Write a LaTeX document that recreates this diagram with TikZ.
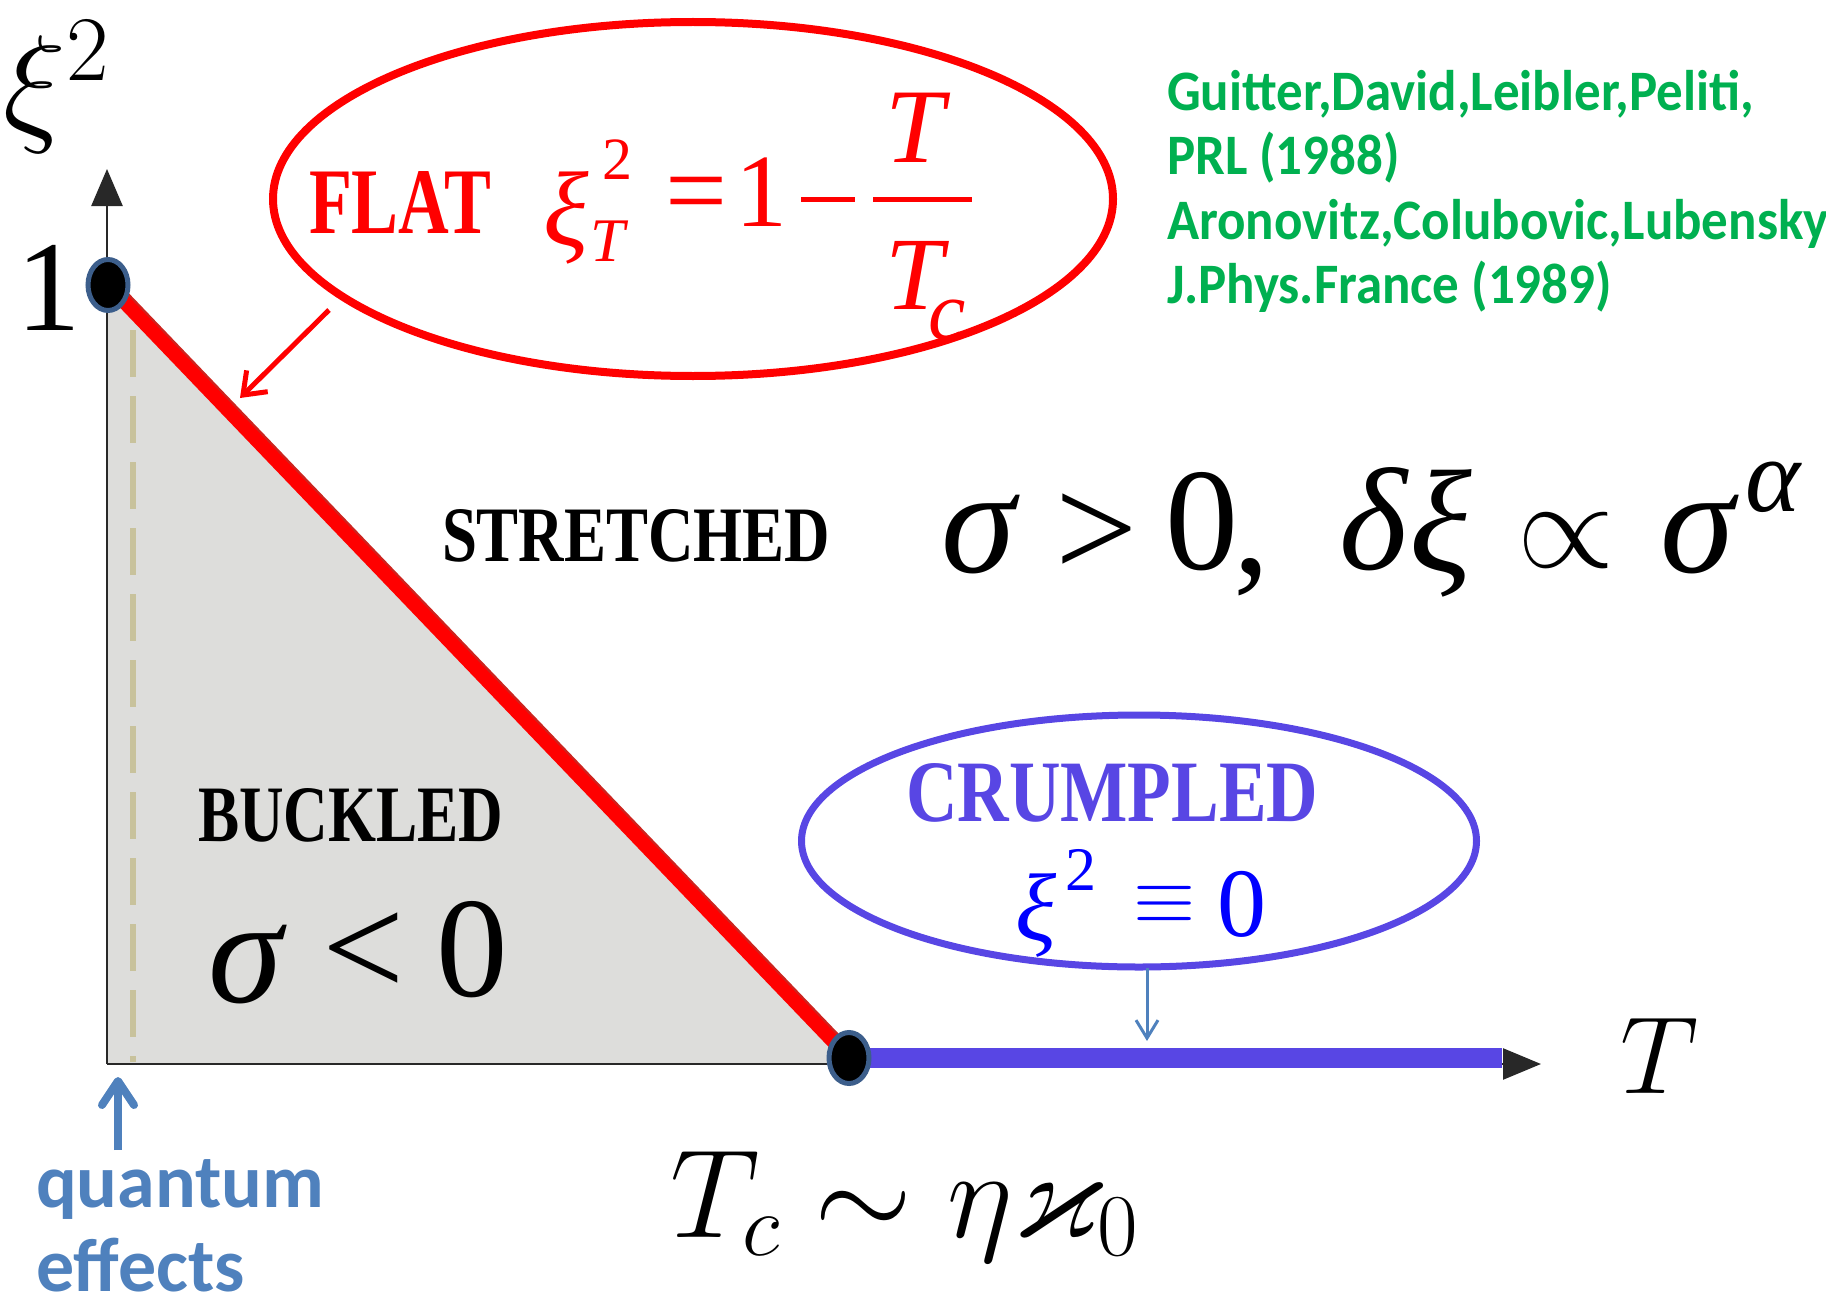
\RequirePackage{fix-cm}
\documentclass[tikz,border=0pt]{standalone}
\usepackage{amsmath,amssymb}
\usepackage{fontspec}
\newfontfamily\tms{Liberation Serif}
\newfontfamily\calfont{Carlito}
\usetikzlibrary{shapes.geometric,arrows.meta}
\definecolor{fred}{RGB}{255,0,0}
\definecolor{dred}{RGB}{205,35,30}
\definecolor{crum}{RGB}{88,70,228}
\definecolor{pblue}{RGB}{0,0,255}
\definecolor{steel}{RGB}{79,129,189}
\definecolor{refgreen}{RGB}{0,176,80}
\definecolor{grayfill}{RGB}{221,221,219}
\definecolor{tanline}{RGB}{200,194,156}
\definecolor{dotblue}{RGB}{60,94,139}
\definecolor{axisgray}{RGB}{40,40,40}
\newcommand\fs[1]{\fontsize{#1}{#1}\selectfont}
\begin{document}
\begin{tikzpicture}[x=1pt,y=-1pt,
  txt/.style={inner sep=0pt, outer sep=0pt},
  axisline/.style={draw=axisgray, line width=2.5pt},
  dot/.style={ellipse, fill=black, draw=dotblue, line width=5pt, minimum width=40pt, minimum height=51pt, inner sep=0pt},
  bubble/.style={ellipse, inner sep=0pt, fill=none},
  reftxt/.style={txt, anchor=base west, text=refgreen, font=\fs{53}\calfont\bfseries},
  qtxt/.style={txt, anchor=base west, text=steel, font=\fs{76}\calfont\bfseries}]
\useasboundingbox (0,0) rectangle (1826,1303);

% coordinates
\coordinate (O) at (107,1064);
\coordinate (ytip) at (107,169);
\coordinate (xtip) at (1541,1064);
\coordinate (one) at (108,285);
\coordinate (tc) at (849,1058);
\coordinate (tcb) at (849,1064);
\coordinate (barend) at (1502,1058);
\coordinate (dtop) at (133,330);
\coordinate (dbot) at (133,1062);

% buckled region
\fill[grayfill] (one) -- (O) -- (tcb) -- cycle;
\draw[tanline, line width=6pt, dash pattern=on 47pt off 19pt] (dtop) -- (dbot);

% axes
\draw[axisline, -{Triangle[length=38pt,width=31pt]}] (O) -- (xtip);
\draw[axisline, -{Triangle[length=37pt,width=31pt]}] (O) -- (ytip);

% transition lines
\draw[dred, line width=6pt, transform canvas={xshift=4.5pt,yshift=4.5pt}] (one) -- (tc);
\draw[fred, line width=14pt] (one) -- (tc);
\draw[crum, line width=20pt] (tc) -- (barend);

% points
\node[dot] (d1) at (one) {};
\node[dot] (d2) at (tc) {};

% bubbles
\node[bubble, draw=fred, line width=8pt, minimum width=840pt, minimum height=354pt] (flat) at (693,199) {};
\node[bubble, draw=crum, line width=7pt, minimum width=675pt, minimum height=252pt] (crumpled) at (1139,841) {};

% axis labels
\node[txt, anchor=base west] (ylab) at (4,128) {\fs{132}$\xi^2$};
\node[txt] (onelab) at (49,288) {\fs{129}\tms 1};
\node[txt, anchor=base west] (xlab) at (1620,1093) {\fs{110}$T$};
\node[txt, anchor=base west] (tclab) at (670,1237) {\fs{126}$T_c\sim\eta\varkappa_0$};

% FLAT
\node[txt, anchor=base west, text=fred] (flattxt) at (309,233) {\resizebox{182pt}{62pt}{\tms\bfseries FLAT}};
\node[txt, text=fred] (fxi) at (566,218) {\fs{106}\tms\itshape ξ};
\node[txt, text=fred] (fsub) at (608,241) {\fs{62}\tms\itshape T};
\node[txt, text=fred] (fsup) at (617,160) {\fs{60}\tms 2};
\node[txt, text=fred] (feq) at (697,202) {\fs{110}\tms =};
\node[txt, text=fred] (fone) at (761,192) {\fs{104}\tms 1};
\node[txt, text=fred] (fminus) at (828,199) {\resizebox{54pt}{5pt}{\rule{10pt}{1pt}}};
\coordinate (barl) at (873,199);
\coordinate (barr) at (972,199);
\draw[fred, line width=5pt] (barl) -- (barr);
\node[txt, text=fred] (fnum) at (915,128) {\fs{106}\tms\itshape T};
\node[txt, text=fred] (fden) at (914,275) {\fs{104}\tms\itshape T};
\node[txt, text=fred] (fc) at (947,320) {\fs{84}\tms\itshape c};

% STRETCHED
\node[txt, anchor=base west] (strtxt) at (442,561) {\resizebox{388pt}{52pt}{\tms\bfseries STRETCHED}};
\node[txt] (s1) at (978,535) {\fs{150}\tms\itshape σ};
\node[txt] (s2) at (1097,536) {\fs{146}\tms >};
\node[txt] (s3) at (1202,522) {\fs{146}\tms 0};
\node[txt] (s4) at (1252,577) {\fs{146}\tms ,};
\node[txt] (s5) at (1373,519) {\fs{146}\tms\itshape δ};
\node[txt] (s6) at (1441,533) {\fs{146}\tms\itshape ξ};
\node[txt] (s7) at (1566,541) {\fs{125}$\propto$};
\node[txt] (s8) at (1697,535) {\fs{150}\tms\itshape σ};
\node[txt] (s9) at (1773,487) {\fs{105}\tms\itshape α};

% BUCKLED
\node[txt, anchor=base west] (bucktxt) at (198,841) {\resizebox{305pt}{53pt}{\tms\bfseries BUCKLED}};
\node[txt] (b1) at (245,965) {\fs{150}\tms\itshape σ};
\node[txt] (b2) at (364,955) {\fs{146}\tms <};
\node[txt] (b3) at (472,950) {\fs{143}\tms 0};

% CRUMPLED
\node[txt, anchor=base west, text=crum] (crumtxt) at (906,821) {\resizebox{412pt}{58pt}{\tms\bfseries CRUMPLED}};
\node[txt, text=pblue] (c1) at (1036,915) {\fs{96}\tms\itshape ξ};
\node[txt, text=pblue] (c2) at (1081,870) {\fs{62}\tms 2};
\node[txt, text=pblue] (c3) at (1165,905) {\fs{80}$\equiv$};
\node[txt, text=pblue] (c4) at (1242,904) {\fs{98}\tms 0};

% references
\node[reftxt] (r1) at (1167,111) {\scalebox{1}[1.08]{Guitter,David,Leibler,Peliti,}};
\node[reftxt] (r2) at (1167,175) {\scalebox{1}[1.08]{PRL (1988)}};
\node[reftxt] (r3) at (1167,239) {\scalebox{1}[1.08]{Aronovitz,Colubovic,Lubensky}};
\node[reftxt] (r4) at (1167,303) {\scalebox{1}[1.08]{J.Phys.France (1989)}};

% quantum effects
\node[qtxt] (q1) at (36,1207) {quantum};
\node[qtxt] (q2) at (36,1291) {effects};

% arrows
\coordinate (fa1) at (329,310);
\coordinate (fa2) at (240,398);
\draw[fred, line width=5pt, -{Straight Barb[length=20pt,width=30pt]}] (fa1) -- (fa2);
\coordinate (ca1) at (1147,968);
\coordinate (ca2) at (1147,1041);
\draw[steel, line width=3pt, -{Straight Barb[length=18pt,width=22pt]}] (ca1) -- (ca2);
\coordinate (qa1) at (118,1150);
\coordinate (qa2) at (118,1077);
\draw[steel, line width=8pt, -{Straight Barb[length=24pt,width=32pt,round]}] (qa1) -- (qa2);
\end{tikzpicture}
\end{document}
